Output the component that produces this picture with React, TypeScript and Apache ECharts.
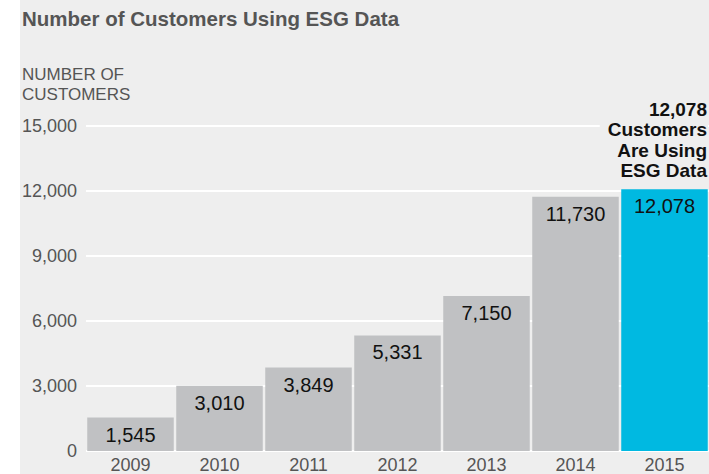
import React, { useEffect, useRef } from "react";
import * as echarts from "echarts";

const years = ["2009", "2010", "2011", "2012", "2013", "2014", "2015"];
const customers = [1545, 3010, 3849, 5331, 7150, 11730, 12078];
const highlightYear = "2015";
const yTicks = [0, 3000, 6000, 9000, 12000, 15000];
const titleText = "Number of Customers Using ESG Data";
const yAxisTitle = "NUMBER OF\nCUSTOMERS";
const annotation = "12,078\nCustomers\nAre Using\nESG Data";

const fmt = (v: number) => v.toLocaleString("en-US");
const FONT = "'Liberation Sans', Arial, Helvetica, sans-serif";

export default function App() {
  const ref = useRef<HTMLDivElement>(null);
  useEffect(() => {
    if (!ref.current) return;
    const chart = echarts.init(ref.current, null, { renderer: "svg" });
    chart.setOption({
      animation: false,
      backgroundColor: "#ffffff",
      textStyle: { fontFamily: FONT },
      graphic: [
        {
          type: "rect",
          z: -10,
          silent: true,
          shape: { x: 20, y: 0, width: 700, height: 480 },
          style: { fill: "#eeeeee" },
        },
        {
          type: "text",
          left: 22,
          top: 8,
          style: {
            text: titleText,
            font: `bold 20.5px ${FONT}`,
            fill: "#555555",
          },
        },
        {
          type: "text",
          left: 22,
          top: 64,
          style: {
            text: yAxisTitle,
            font: `17px ${FONT}`,
            lineHeight: 20,
            fill: "#555555",
          },
        },
        {
          type: "text",
          z: 100,
          x: 708,
          y: 99,
          style: {
            text: annotation,
            font: `bold 19px ${FONT}`,
            lineHeight: 20.5,
            align: "right",
            verticalAlign: "top",
            fill: "#111111",
            backgroundColor: "#eeeeee",
            padding: [0, 1, 0, 8],
          },
        },
      ],
      grid: { left: 86, right: -3.5, top: 126, bottom: 20, containLabel: false },
      xAxis: {
        type: "category",
        data: years,
        axisLine: { show: false },
        axisTick: { show: false },
        axisLabel: { color: "#555555", fontSize: 18, margin: 5, fontFamily: FONT },
      },
      yAxis: {
        type: "value",
        min: yTicks[0],
        max: yTicks[yTicks.length - 1],
        interval: 3000,
        axisLine: { show: false },
        axisTick: { show: false },
        axisLabel: {
          color: "#555555",
          fontSize: 18,
          margin: 9,
          fontFamily: FONT,
          formatter: (v: number) => fmt(v),
        },
        splitLine: { lineStyle: { color: "#ffffff", width: 2 } },
      },
      series: [
        {
          type: "bar",
          barCategoryGap: "2.8%",
          data: customers.map((v, i) => ({
            value: v,
            itemStyle: { color: years[i] === highlightYear ? "#00b9e1" : "#c0c1c3" },
          })),
          label: {
            show: true,
            position: "insideTop",
            distance: 7,
            color: "#111111",
            fontSize: 20,
            fontFamily: FONT,
            formatter: (p: any) => fmt(p.value),
          },
        },
      ],
    });
    return () => chart.dispose();
  }, []);
  return (
    <div
      ref={ref}
      style={{ position: "fixed", left: 0, top: 0, width: 709, height: 474 }}
    />
  );
}
